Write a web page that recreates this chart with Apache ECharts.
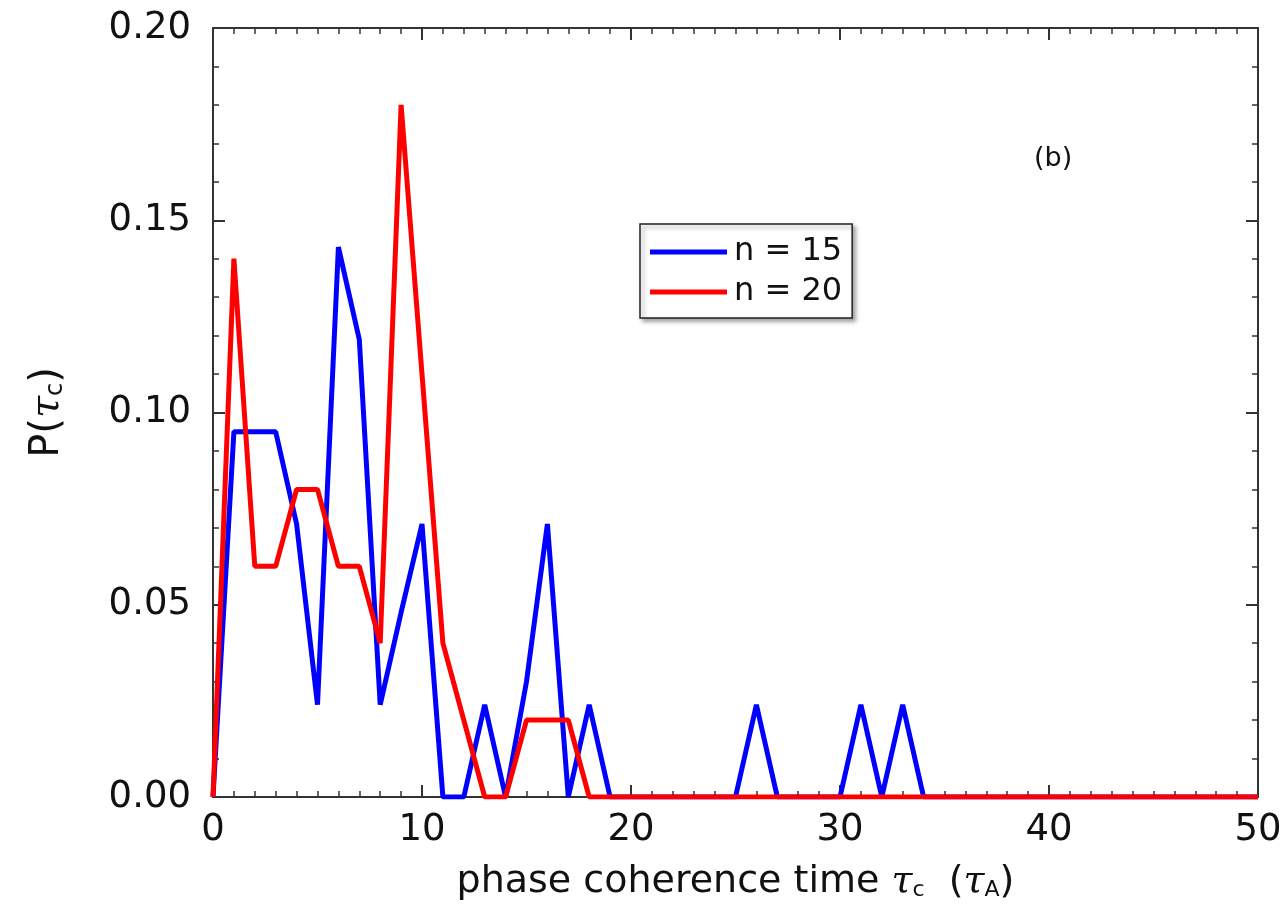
<!DOCTYPE html>
<html>
<head>
<meta charset="utf-8">
<script src="https://cdn.jsdelivr.net/npm/echarts@6/dist/echarts.min.js"></script>
<style>html,body{margin:0;padding:0;background:#fff;}#c{width:1287px;height:911px;}</style>
</head>
<body>
<div id="c"></div>
<script>
const tau = [];
for (let i = 0; i <= 50; i++) tau.push(i);
const n15 = [0, 0.095, 0.095, 0.095, 0.071, 0.024, 0.143, 0.119, 0.024, 0.048,
  0.071, 0, 0, 0.024, 0, 0.03, 0.071, 0, 0.024, 0,
  0, 0, 0, 0, 0, 0, 0.024, 0, 0, 0,
  0, 0.024, 0, 0.024, 0, 0, 0, 0, 0, 0,
  0, 0, 0, 0, 0, 0, 0, 0, 0, 0, 0];
const n20 = [0, 0.14, 0.06, 0.06, 0.08, 0.08, 0.06, 0.06, 0.04, 0.18,
  0.11, 0.04, 0.02, 0, 0, 0.02, 0.02, 0.02, 0, 0,
  0, 0, 0, 0, 0, 0, 0, 0, 0, 0,
  0, 0, 0, 0, 0, 0, 0, 0, 0, 0,
  0, 0, 0, 0, 0, 0, 0, 0, 0, 0, 0];
const seriesNames = ['n = 15', 'n = 20'];
const xTicks = [0, 10, 20, 30, 40, 50];
const yTicks = ['0.00', '0.05', '0.10', '0.15', '0.20'];

const font = 'DejaVu Sans';
const axisCol = '#333';
const chart = echarts.init(document.getElementById('c'), null, {renderer: 'canvas'});

function pairs(vals) { return tau.map((t, i) => [t, vals[i]]); }

function baseX(pos) {
  return {
    type: 'value', min: 0, max: 50, interval: 10, position: pos,
    axisLine: {show: true, onZero: false, lineStyle: {color: axisCol, width: 2}},
    axisTick: {show: true, inside: true, length: 12, lineStyle: {color: axisCol, width: 2}},
    minorTick: {show: true, splitNumber: 10, length: 6, lineStyle: {color: axisCol, width: 1.5}},
    splitLine: {show: false}
  };
}
function baseY(pos) {
  return {
    type: 'value', min: 0, max: 0.2, interval: 0.05, position: pos,
    axisLine: {show: true, onZero: false, lineStyle: {color: axisCol, width: 2}},
    axisTick: {show: true, inside: true, length: 12, lineStyle: {color: axisCol, width: 2}},
    minorTick: {show: true, splitNumber: 5, length: 6, lineStyle: {color: axisCol, width: 1.5}},
    splitLine: {show: false}
  };
}

chart.setOption({
  animation: false,
  backgroundColor: '#fff',
  grid: {left: 213, right: 29, top: 28, bottom: 114, containLabel: false},
  xAxis: [
    Object.assign(baseX('bottom'), {
      axisLabel: {show: true, margin: 15, fontFamily: font, fontSize: 37, color: '#111',
        formatter: v => xTicks.includes(v) ? String(v) : ''},
      name: '{a|phase coherence time }{t|τ}{s|c}{a|  (}{t|τ}{s|A}{a|)}',
      nameLocation: 'middle', nameGap: 66,
      nameTextStyle: {
        rich: {
          a: {fontFamily: font, fontSize: 38, color: '#111'},
          t: {fontFamily: 'DejaVu Serif', fontStyle: 'italic', fontSize: 38, color: '#111'},
          s: {fontFamily: font, fontSize: 22, color: '#111', padding: [16, 0, 0, 0]}
        }
      }
    }),
    Object.assign(baseX('top'), {axisLabel: {show: false}})
  ],
  yAxis: [
    Object.assign(baseY('left'), {
      axisLabel: {show: true, margin: 22, fontFamily: font, fontSize: 37, color: '#111',
        formatter: v => v.toFixed(2)},
      name: '{a|P(}{t|τ}{s|c}{a|)}',
      nameLocation: 'middle', nameGap: 145, nameRotate: 90,
      nameTextStyle: {
        rich: {
          a: {fontFamily: font, fontSize: 40, color: '#111'},
          t: {fontFamily: 'DejaVu Serif', fontStyle: 'italic', fontSize: 40, color: '#111'},
          s: {fontFamily: font, fontSize: 24, color: '#111', padding: [16, 0, 0, 0]}
        }
      }
    }),
    Object.assign(baseY('right'), {axisLabel: {show: false}})
  ],
  legend: {
    left: 640, top: 224, orient: 'vertical',
    backgroundColor: '#fff',
    borderColor: '#222', borderWidth: 1.5,
    shadowColor: 'rgba(0,0,0,0.35)', shadowBlur: 4, shadowOffsetX: 3, shadowOffsetY: 3,
    padding: [12, 10, 10, 10], itemGap: 8,
    itemWidth: 77, itemHeight: 5, icon: 'rect',
    textStyle: {fontFamily: font, fontSize: 32, color: '#111', padding: [0, 0, 0, 2]},
    data: seriesNames
  },
  graphic: [{
    type: 'text', left: 1034, top: 145,
    style: {text: '(b)', font: '27px "DejaVu Sans"', fill: '#111'}
  }],
  series: [
    {name: seriesNames[0], type: 'line', data: pairs(n15), showSymbol: false, symbol: 'none',
      lineStyle: {color: '#0000ff', width: 5}, itemStyle: {color: '#0000ff'}, z: 2},
    {name: seriesNames[1], type: 'line', data: pairs(n20), showSymbol: false, symbol: 'none',
      lineStyle: {color: '#ff0000', width: 5}, itemStyle: {color: '#ff0000'}, z: 3}
  ]
});
</script>
</body>
</html>
